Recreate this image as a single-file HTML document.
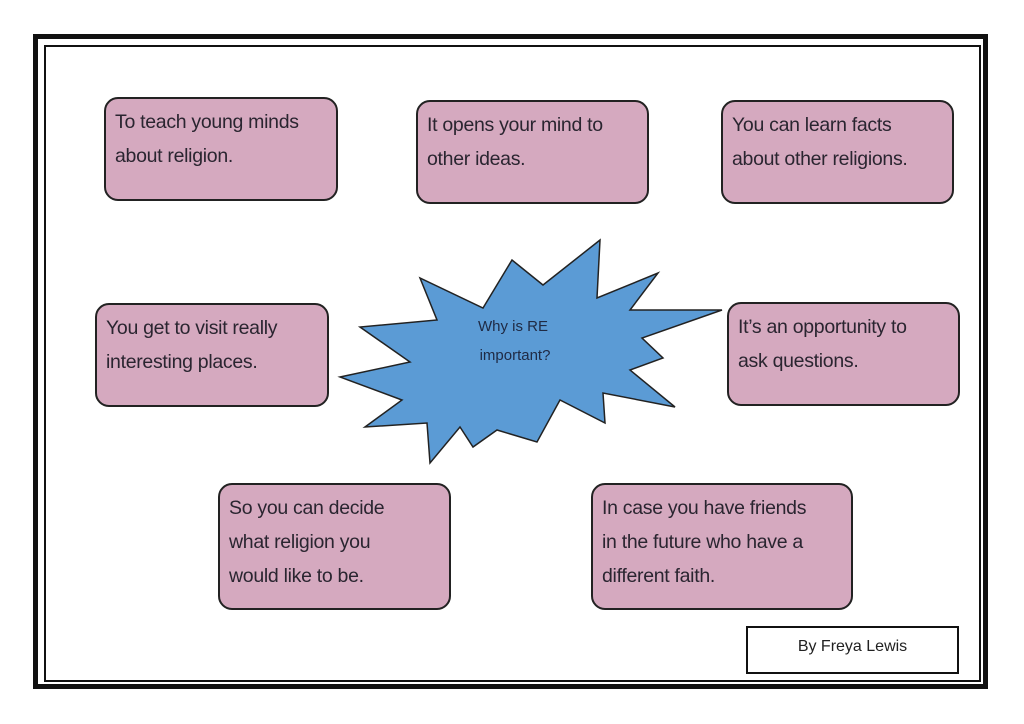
<!DOCTYPE html>
<html><head><style>
body{margin:0;width:1024px;height:724px;background:#fff;position:relative;overflow:hidden;font-family:"Liberation Sans",sans-serif}
.b{position:absolute;background:#d5a9bf;border:2px solid #222;border-radius:14px;box-sizing:border-box;padding:6px 6px 0 9px;font-size:19.5px;line-height:34px;color:#2a2530;letter-spacing:-0.3px;white-space:nowrap}
</style></head><body>
<div style="position:absolute;left:33px;top:34px;width:955px;height:655px;border:5px solid #111;box-sizing:border-box"></div>
<div style="position:absolute;left:44px;top:45px;width:937px;height:637px;border:2px solid #111;box-sizing:border-box"></div>
<svg style="position:absolute;left:0;top:0" width="1024" height="724">
<polygon points="340,377 410,362 360,327 437,320 420,278 483,308 512,260 543,285 600,240 597,298 658,273 630,310 722,310 642,338 663,358 630,370 675,407 603,393 605,423 560,400 537,442 497,430 473,447 460,427 430,463 427,423 365,427 402,400" fill="#5b9bd5" stroke="#222" stroke-width="1.5"/>
<text x="513" y="331" font-size="15" text-anchor="middle" fill="#1f2a44" font-family="Liberation Sans, sans-serif">Why is RE</text>
<text x="515" y="360" font-size="15" text-anchor="middle" fill="#1f2a44" font-family="Liberation Sans, sans-serif">important?</text>
</svg>
<div class="b" style="left:104px;top:97px;width:234px;height:104px">To teach young minds<br>about religion.</div>
<div class="b" style="left:416px;top:100px;width:233px;height:104px">It opens your mind to<br>other ideas.</div>
<div class="b" style="left:721px;top:100px;width:233px;height:104px">You can learn facts<br>about other religions.</div>
<div class="b" style="left:95px;top:303px;width:234px;height:104px">You get to visit really<br>interesting places.</div>
<div class="b" style="left:727px;top:302px;width:233px;height:104px">It’s an opportunity to<br>ask questions.</div>
<div class="b" style="left:218px;top:483px;width:233px;height:127px">So you can decide<br>what religion you<br>would like to be.</div>
<div class="b" style="left:591px;top:483px;width:262px;height:127px">In case you have friends<br>in the future who have a<br>different faith.</div>
<div style="position:absolute;left:746px;top:626px;width:213px;height:48px;border:2px solid #111;box-sizing:border-box;text-align:center;line-height:38px;font-size:16px;color:#222">By Freya Lewis</div>
</body></html>
